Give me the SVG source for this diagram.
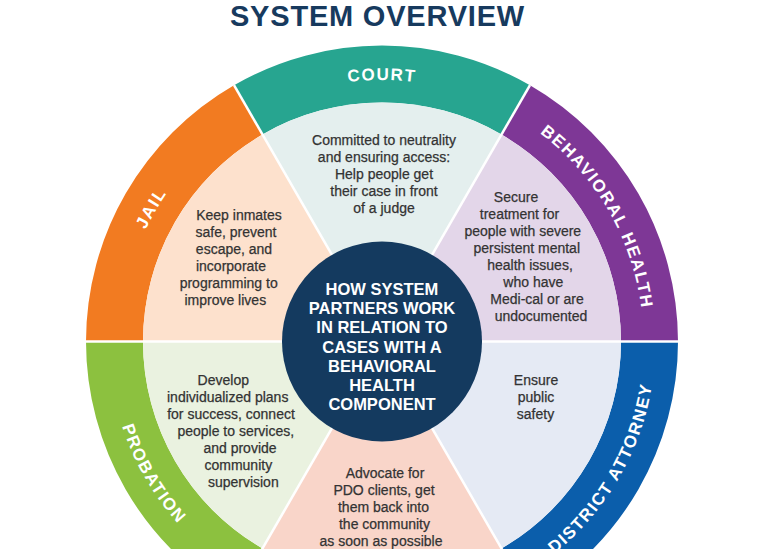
<svg xmlns="http://www.w3.org/2000/svg" width="768" height="549" viewBox="0 0 768 549">
<style>
.title{font-family:"Liberation Sans",Arial,sans-serif;font-weight:700;font-size:29px;fill:#173a5e;letter-spacing:0.8px}
.ring{font-family:"Liberation Sans",Arial,sans-serif;font-weight:700;font-size:17px;fill:#ffffff;letter-spacing:1.5px}
.body{font-family:"Liberation Sans",Arial,sans-serif;font-size:14px;fill:#333333;stroke:#333333;stroke-width:0.25px;text-anchor:middle}
.hub{font-family:"Liberation Sans",Arial,sans-serif;font-weight:700;font-size:16.5px;fill:#ffffff;text-anchor:middle}
.sep{stroke:#ffffff;stroke-width:2.5}
</style>
<defs>
<path id="arcCourt" d="M213.9,141.2 A261.5,261.5 0 0 1 550.1,141.2"/>
<path id="arcJail" d="M124.5,386.9 A261.5,261.5 0 0 1 292.6,95.8"/>
<path id="arcBH" d="M471.4,95.8 A261.5,261.5 0 0 1 639.5,386.9"/>
<path id="arcProb" d="M112.7,294 A273.5,273.5 0 0 0 288.5,598.5"/>
<path id="arcDA" d="M475.5,598.5 A273.5,273.5 0 0 0 651.3,294"/>
</defs>
<rect width="768" height="549" fill="#ffffff"/>
<text class="title" x="377.5" y="26" text-anchor="middle">SYSTEM OVERVIEW</text>

<g id="court">
<path d="M234,85.2 A296,296 0 0 1 530,85.2 L501.5,134.5 A239,239 0 0 0 262.5,134.5 Z" fill="#27a590"/>
<path d="M382,341.5 L262.5,134.5 A239,239 0 0 1 501.5,134.5 Z" fill="#e4efee"/>
<text class="ring"><textPath href="#arcCourt" startOffset="50%" text-anchor="middle">COURT</textPath></text>
<text class="body" x="384" y="145">Committed to neutrality</text>
<text class="body" x="384" y="162">and ensuring access:</text>
<text class="body" x="384" y="179">Help people get</text>
<text class="body" x="384" y="196">their case in front</text>
<text class="body" x="384" y="213">of a judge</text>
</g>

<g id="behavioral-health">
<path d="M530,85.2 A296,296 0 0 1 678,341.5 L621,341.5 A239,239 0 0 0 501.5,134.5 Z" fill="#7e3796"/>
<path d="M382,341.5 L501.5,134.5 A239,239 0 0 1 621,341.5 Z" fill="#e3d6e9"/>
<text class="ring"><textPath href="#arcBH" startOffset="50%" text-anchor="middle">BEHAVIORAL HEALTH</textPath></text>
<text class="body" x="516" y="201.5">Secure</text>
<text class="body" x="519.5" y="218.5">treatment for</text>
<text class="body" x="522.8" y="235.5">people with severe</text>
<text class="body" x="526.7" y="252.5">persistent mental</text>
<text class="body" x="530" y="269.5">health issues,</text>
<text class="body" x="533.3" y="286.5">who have</text>
<text class="body" x="537" y="303.5">Medi-cal or are</text>
<text class="body" x="541" y="320.5">undocumented</text>
</g>

<g id="district-attorney">
<path d="M678,341.5 A296,296 0 0 1 530,597.8 L501.5,548.5 A239,239 0 0 0 621,341.5 Z" fill="#0b5eab"/>
<path d="M382,341.5 L621,341.5 A239,239 0 0 1 501.5,548.5 Z" fill="#e5eaf4"/>
<text class="ring"><textPath href="#arcDA" startOffset="50%" text-anchor="middle">DISTRICT ATTORNEY</textPath></text>
<text class="body" x="536" y="385">Ensure</text>
<text class="body" x="536" y="402">public</text>
<text class="body" x="535.5" y="419">safety</text>
</g>

<g id="public-defender">
<path d="M382,341.5 L501.5,548.5 A239,239 0 0 1 262.5,548.5 Z" fill="#f9d5c9"/>
<text class="body" x="385" y="477.7">Advocate for</text>
<text class="body" x="384" y="494.7">PDO clients, get</text>
<text class="body" x="383.5" y="511.7">them back into</text>
<text class="body" x="384.5" y="528.7">the community</text>
<text class="body" x="381" y="545.7">as soon as possible</text>
</g>

<g id="probation">
<path d="M234,597.8 A296,296 0 0 1 86,341.5 L143,341.5 A239,239 0 0 0 262.5,548.5 Z" fill="#8cc13f"/>
<path d="M382,341.5 L262.5,548.5 A239,239 0 0 1 143,341.5 Z" fill="#eaf2e0"/>
<text class="ring"><textPath href="#arcProb" startOffset="50%" text-anchor="middle">PROBATION</textPath></text>
<text class="body" x="223.3" y="385">Develop</text>
<text class="body" x="227.7" y="402">individualized plans</text>
<text class="body" x="231" y="419">for success, connect</text>
<text class="body" x="235.8" y="436">people to services,</text>
<text class="body" x="240" y="453">and provide</text>
<text class="body" x="238.3" y="470">community</text>
<text class="body" x="243.3" y="487">supervision</text>
</g>

<g id="jail">
<path d="M86,341.5 A296,296 0 0 1 234,85.2 L262.5,134.5 A239,239 0 0 0 143,341.5 Z" fill="#f27b21"/>
<path d="M382,341.5 L143,341.5 A239,239 0 0 1 262.5,134.5 Z" fill="#fde1cd"/>
<text class="ring"><textPath href="#arcJail" startOffset="50%" text-anchor="middle">JAIL</textPath></text>
<text class="body" x="239" y="219.5">Keep inmates</text>
<text class="body" x="236" y="236.5">safe, prevent</text>
<text class="body" x="234" y="253.5">escape, and</text>
<text class="body" x="231" y="270.5">incorporate</text>
<text class="body" x="228.7" y="287.5">programming to</text>
<text class="body" x="225.3" y="304.5">improve lives</text>
</g>

<g id="connectors">
<line class="sep" x1="86" y1="341.5" x2="678" y2="341.5"/>
<line class="sep" x1="234" y1="85.2" x2="530" y2="597.8"/>
<line class="sep" x1="530" y1="85.2" x2="234" y2="597.8"/>
</g>

<g id="hub">
<circle cx="382" cy="341.5" r="100" fill="#143a5f"/>
<text class="hub" x="382" y="295">HOW SYSTEM</text>
<text class="hub" x="382" y="314.2">PARTNERS WORK</text>
<text class="hub" x="382" y="333.4">IN RELATION TO</text>
<text class="hub" x="382" y="352.6">CASES WITH A</text>
<text class="hub" x="382" y="371.8">BEHAVIORAL</text>
<text class="hub" x="382" y="391">HEALTH</text>
<text class="hub" x="382" y="410">COMPONENT</text>
</g>
</svg>
